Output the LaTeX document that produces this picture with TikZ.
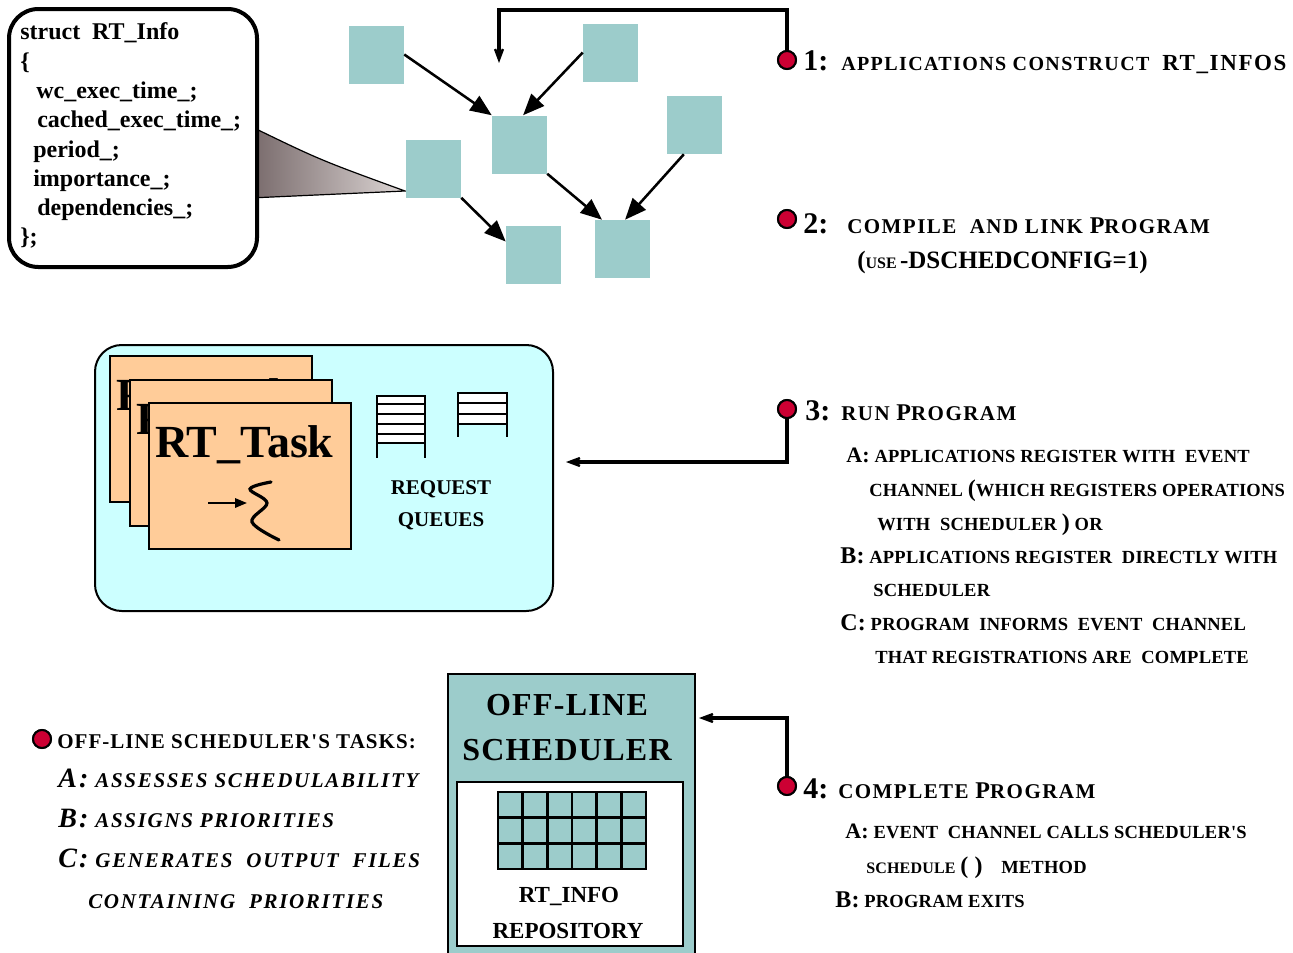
\documentclass[tikz,border=0pt]{standalone}
\usepackage{fontspec}
\setmainfont{Liberation Serif}
\newfontfamily\headfont[LetterSpace=7]{Liberation Serif}
\newfontfamily\midfont[LetterSpace=5]{Liberation Serif}
\newfontfamily\subfont[LetterSpace=1.2]{Liberation Serif}
\newfontfamily\listfont[LetterSpace=8]{Liberation Serif}
\newfontfamily\boxfont[LetterSpace=4]{Liberation Serif}
\usetikzlibrary{arrows.meta,calc}
% font size given in pixels of the drawing grid (1px = 0.75pt)
\newcommand\fpx[1]{\fontsize{\fpeval{#1*0.75}pt}{\fpeval{#1*0.9}pt}\selectfont}
\definecolor{teal1}{HTML}{9CCCCB}
\definecolor{cyanbg}{HTML}{CCFFFF}
\definecolor{peach}{HTML}{FFCC99}
\definecolor{dotred}{HTML}{CC0033}
\definecolor{wedgeD}{HTML}{77696A}
\definecolor{wedgeL}{HTML}{DDD6D5}
\tikzset{
  txt/.style={inner sep=0pt, anchor=base west},
  ctxt/.style={inner sep=0pt, anchor=base},
  sq/.style={fill=teal1, minimum width=41.25pt, minimum height=43.5pt, inner sep=0pt},
  garr/.style={line width=1.9pt, -{Triangle[length=16pt,width=13pt]}},
  conn/.style={line width=3pt, -{Stealth[length=20pt,width=15pt,inset=13pt]}},
  reddot/.style={circle, fill=dotred, draw=black, line width=1.5pt, minimum size=13.5pt, inner sep=0pt},
  numf/.style={font=\fpx{30}\bfseries},
  headf/.style={font=\headfont\fpx{21}\bfseries},
  subf/.style={font=\subfont\fpx{18.5}\bfseries},
  listf/.style={font=\listfont\fpx{21}\bfseries\itshape},
}
\begin{document}
\begin{tikzpicture}[x=0.75pt,y=-0.75pt]
\useasboundingbox (0,0) rectangle (1293,953);

% ---------- struct RT_Info callout ----------
\draw[line width=0.9pt, left color=wedgeD, right color=wedgeL]
  (250,126) .. controls (320,160) .. (405,191) -- (250,198) -- cycle;
\draw[line width=3pt, fill=white, rounded corners=22pt] (9,9) rectangle (257,267);
\begin{scope}[every node/.style={txt, font=\fpx{24}\bfseries}]
  \node (s1) at (20,39) {struct\ \ RT\_Info};
  \node (s2) at (20,69) {\{};
  \node (s3) at (36,98) {wc\_exec\_time\_;};
  \node (s4) at (37,127) {cached\_exec\_time\_;};
  \node (s5) at (33,157) {period\_;};
  \node (s6) at (33,186) {importance\_;};
  \node (s7) at (37,215) {dependencies\_;};
  \node (s8) at (20,244) {\};};
\end{scope}

% ---------- dependency graph ----------
\node[sq] (A) at (376.5,54.5) {};
\node[sq] (B) at (610.5,52.5) {};
\node[sq] (C) at (519.5,144.5) {};
\node[sq] (D) at (694.5,125) {};
\node[sq] (E) at (433.5,168.5) {};
\node[sq] (F) at (533.5,254.5) {};
\node[sq] (G) at (622.5,249) {};
\draw[garr] (A.east) -- (C.north west);
\draw[garr] (B.west) -- (C.83);
\draw[garr] (C.south east) -- (G.125);
\draw[garr] (D.250) -- (G.85);
\draw[garr] (E.south east) -- (F.155);

% ---------- run-time box ----------
\draw[line width=1.5pt, fill=cyanbg, rounded corners=20pt] (95,345) rectangle (553,611);
\foreach \cx/\cy [count=\i] in {110/356, 130/380, 149/403}{
  \draw[line width=1.6pt, fill=peach] (\cx,\cy) rectangle ++(202,146);
  \node[txt, font=\fpx{46}\bfseries] (task\i) at (\cx+6,\cy+54) {RT\_Task};
}
\draw[line width=1.6pt, -{Triangle[length=9pt,width=7pt]}] (208,503) -- (247,503);
\draw[line width=2.4pt, line cap=round] plot[smooth, tension=0.6]
  coordinates {(271,482) (250,489) (267,503) (252,522) (279,540)};
% request queues
\foreach \ya/\yb in {396/404, 404/414, 414/424, 424/434, 434/443}
  \draw[line width=1.4pt, fill=white] (377,\ya) rectangle (425,\yb);
\draw[line width=1.6pt] (377,396) -- (377,458) (425,396) -- (425,458);
\foreach \ya/\yb in {393/403, 403/414, 414/424}
  \draw[line width=1.4pt, fill=white] (458,\ya) rectangle (507,\yb);
\draw[line width=1.6pt] (458,393) -- (458,437) (507,393) -- (507,437);
\node[ctxt, font=\fpx{21}\bfseries] (rq1) at (441,494) {REQUEST};
\node[ctxt, font=\fpx{21}\bfseries] (rq2) at (441,526) {QUEUES};

% ---------- off-line scheduler ----------
\draw[line width=1.6pt, fill=teal1] (448,674) rectangle (695,958);
\node[ctxt, font=\boxfont\fpx{32}\bfseries] (os1) at (567,715) {OFF-LINE};
\node[ctxt, font=\boxfont\fpx{32}\bfseries] (os2) at (567,760) {SCHEDULER};
\draw[line width=1.4pt, fill=white] (457,782) rectangle (683,946);
\draw[line width=1.8pt, fill=teal1] (498,792) rectangle (646,869);
\foreach \k in {1,...,5} \draw[line width=1.8pt] ({498+\k*148/6},792) -- ({498+\k*148/6},869);
\foreach \k in {1,2} \draw[line width=1.8pt] (498,{792+\k*77/3}) -- (646,{792+\k*77/3});
\node[ctxt, font=\fpx{23}\bfseries] (ri1) at (569,902) {RT\_INFO};
\node[ctxt, font=\fpx{23}\bfseries] (ri2) at (568,938) {REPOSITORY};

% ---------- step markers and connectors ----------
\coordinate (k1) at (499,63);
\coordinate (k3) at (566,462);
\coordinate (k4) at (699,718);
\node[reddot] (d1) at (787,60) {};
\node[reddot] (d2) at (787,219) {};
\node[reddot] (d3) at (787,409) {};
\node[reddot] (d4) at (787,786) {};
\node[reddot] (d5) at (42,739) {};
\draw[conn] (d1.center) -- (787,10) -| (k1);
\draw[conn] (d3.center) |- (k3);
\draw[conn] (d4.center) |- (k4);
\foreach \d in {d1,d2,d3,d4,d5} \node[reddot] at (\d) {};

% ---------- step texts ----------
\node[txt, numf] (n1) at (803,70) {1:};
\node[txt, headf, font=\headfont\fpx{20}\bfseries] (t1) at (841,70) {APPLICATIONS CONSTRUCT\ \ {\fpx{23}RT\_INFOS}};
\node[txt, numf] (n2) at (803,233) {2:};
\node[txt, headf] (t2) at (847,233) {COMPILE\ \ AND LINK {\fpx{24}P}ROGRAM};
\node[txt, font=\bfseries] (t2b) at (857,268) {{\fpx{25}(}{\fpx{16}USE} {\fpx{25}-DSCHEDCONFIG=1)}};

\node[txt, numf] (n3) at (805,420) {3:};
\node[txt, headf] (t3) at (841,420) {RUN {\fpx{24}P}ROGRAM};
\node[txt, subf] (t3a) at (846,462) {{\fpx{22}A:} APPLICATIONS REGISTER WITH\ \ EVENT};
\node[txt, subf] (t3b) at (869,496) {CHANNEL {\fpx{24}(}WHICH REGISTERS OPERATIONS};
\node[txt, subf] (t3c) at (877,530) {WITH\ \ SCHEDULER {\fpx{24})} OR};
\node[txt, subf] (t3d) at (840,563) {{\fpx{24}B:} APPLICATIONS REGISTER\ \ DIRECTLY WITH};
\node[txt, subf] (t3e) at (873,596) {SCHEDULER};
\node[txt, subf] (t3f) at (840,630) {{\fpx{24}C:} PROGRAM\ \ INFORMS\ \ EVENT\ \ CHANNEL};
\node[txt, subf] (t3g) at (875,663) {THAT REGISTRATIONS ARE\ \ COMPLETE};

\node[txt, numf] (n4) at (803,798) {4:};
\node[txt, headf] (t4) at (838,798) {COMPLETE {\fpx{24}P}ROGRAM};
\node[txt, subf] (t4a) at (845,838) {{\fpx{22}A:} EVENT\ \ CHANNEL CALLS SCHEDULER'S};
\node[txt, subf] (t4b) at (866,873) {{\fpx{16}SCHEDULE} {\fpx{24}( )}\quad METHOD};
\node[txt, subf] (t4c) at (835,907) {{\fpx{24}B:} PROGRAM EXITS};

% ---------- scheduler task list ----------
\node[txt, font=\midfont\fpx{21}\bfseries] (l0) at (57,748) {OFF-LINE SCHEDULER'S TASKS:};
\node[txt, listf] (l1) at (58,787) {{\fpx{28}A:} ASSESSES SCHEDULABILITY};
\node[txt, listf] (l2) at (58,827) {{\fpx{28}B:} ASSIGNS PRIORITIES};
\node[txt, listf] (l3) at (58,867) {{\fpx{28}C:} GENERATES\ \ OUTPUT\ \ FILES};
\node[txt, listf] (l4) at (88,908) {CONTAINING\ \ PRIORITIES};
\end{tikzpicture}
\end{document}
